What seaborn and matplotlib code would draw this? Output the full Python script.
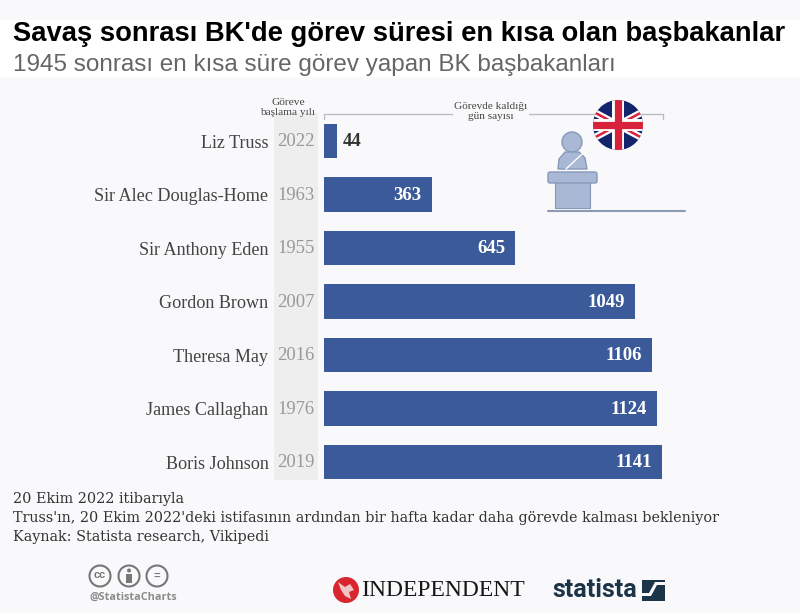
import matplotlib
matplotlib.use('Agg')
import matplotlib.pyplot as plt
from matplotlib.patches import Circle, Rectangle, Polygon, FancyBboxPatch
import pandas as pd
import seaborn as sns

names = ['Liz Truss', 'Sir Alec Douglas-Home', 'Sir Anthony Eden', 'Gordon Brown',
         'Theresa May', 'James Callaghan', 'Boris Johnson']
years = [2022, 1963, 1955, 2007, 2016, 1976, 2019]
days = [44, 363, 645, 1049, 1106, 1124, 1141]

title = "Savaş sonrası BK'de görev süresi en kısa olan başbakanlar"
subtitle = "1945 sonrası en kısa süre görev yapan BK başbakanları"
notes = ["20 Ekim 2022 itibarıyla",
         "Truss'ın, 20 Ekim 2022'deki istifasının ardından bir hafta kadar daha görevde kalması bekleniyor",
         "Kaynak: Statista research, Vikipedi"]

BG = '#f9f9fb'
BAR = '#3b5a9a'
ICON = '#a9b8d4'
ICON_EDGE = '#8698ba'
W, H = 800, 613

sns.set_theme(style='white')
plt.rcParams['font.family'] = ['Liberation Sans', 'DejaVu Sans']

df = pd.DataFrame({'name': names, 'year': years, 'days': days})

fig = plt.figure(figsize=(W / 100, H / 100), dpi=100, facecolor=BG)

# full figure layer in pixels, for everything around the bars
deco = fig.add_axes([0, 0, 1, 1], zorder=0)
deco.set_xlim(0, W)
deco.set_ylim(H, 0)
deco.axis('off')

deco.add_patch(Rectangle((0, 20), W, 57, color='white', lw=0))
deco.text(13, 41, title, fontsize=19.7, fontweight='bold', color='black', va='baseline', ha='left')
deco.text(13, 71.5, subtitle, fontsize=17.5, color='#666666', va='baseline', ha='left')

# year column
deco.add_patch(Rectangle((274, 113), 44, 367, color='#eeeeee', lw=0))
deco.text(288, 107.5, 'Göreve\nbaşlama yılı', fontsize=8.2, family='Liberation Serif', color='#444444',
          ha='center', va='center', linespacing=1.1)

# bracket over the bars
deco.plot([324, 324, 663, 663], [119, 113.5, 113.5, 119], color='#b9bdc6', lw=1)
deco.text(491, 111.5, 'Görevde kaldığı\ngün sayısı', fontsize=8.1, family='Liberation Serif', color='#444444',
          ha='center', va='center', linespacing=1.1,
          bbox=dict(facecolor=BG, edgecolor='none', pad=1))

# speaker at the lectern
deco.add_patch(Circle((572, 142), 10, facecolor=ICON, edgecolor=ICON_EDGE, lw=1))
deco.add_patch(Polygon([(558, 169), (559, 159), (565, 152), (579, 152), (585, 158), (587, 169)],
                       facecolor=ICON, edgecolor=ICON_EDGE, lw=1))
deco.plot([566, 582], [169, 154], color='white', lw=1)
deco.add_patch(Rectangle((555, 182), 35, 26, facecolor=ICON, edgecolor=ICON_EDGE, lw=0.8))
deco.add_patch(FancyBboxPatch((548, 172), 49, 11, boxstyle='round,pad=0,rounding_size=2',
                              facecolor=ICON, edgecolor=ICON_EDGE, lw=1))
deco.plot([548, 685], [210.5, 210.5], color='#8d9ab3', lw=1.5)

# flag
flag = Circle((618, 125), 25, facecolor='#12246b', edgecolor='none', zorder=3)
deco.add_patch(flag)
parts = [deco.plot([590, 646], [110, 140], color='white', lw=5, zorder=4)[0],
         deco.plot([590, 646], [140, 110], color='white', lw=5, zorder=4)[0],
         deco.plot([590, 646], [110, 140], color='#d8213a', lw=1.8, zorder=5)[0],
         deco.plot([590, 646], [140, 110], color='#d8213a', lw=1.8, zorder=5)[0],
         deco.plot([618, 618], [98, 152], color='white', lw=8.6, zorder=6)[0],
         deco.plot([590, 646], [125, 125], color='white', lw=8.6, zorder=6)[0],
         deco.plot([618, 618], [98, 152], color='#d8213a', lw=5.2, zorder=7)[0],
         deco.plot([590, 646], [125, 125], color='#d8213a', lw=5.2, zorder=7)[0]]
for p in parts:
    p.set_clip_path(flag)

# footer notes
for y, line in zip([503, 522, 541], notes):
    deco.text(13, y, line, fontsize=10.37, family='DejaVu Serif', color='#333333', va='baseline', ha='left')

# cc icons
for x, label in zip([100, 129, 157], ['cc', '', '=']):
    deco.add_patch(Circle((x, 576), 10.5, facecolor='none', edgecolor='#777777', lw=1.5))
    if label:
        deco.text(x, 575.5, label, fontsize=8, fontweight='bold', color='#777777', ha='center', va='center')
deco.add_patch(Circle((129, 570.5), 2, color='#777777', lw=0))
deco.add_patch(Rectangle((126, 573.5), 6, 9, color='#777777', lw=0))
deco.text(89.5, 597, '@StatistaCharts', fontsize=7.8, fontweight='bold', color='#8c8c8c', va='center', ha='left',
          family='Open Sans')

# publisher logos
deco.add_patch(Circle((346, 590), 13, color='#d9252e', lw=0))
deco.add_patch(Polygon([(338, 582), (345, 587), (350, 584), (354, 590), (349, 592), (351, 599), (345, 596), (341, 590)],
                       color='#f0c4c4', lw=0))
deco.text(361, 591, 'INDEPENDENT', fontsize=17, family='Liberation Serif', color='#161616', va='center', ha='left')
deco.text(552, 590, 'statista', fontsize=18, fontweight='bold', family='Roboto', color='#1b3447', va='center', ha='left',
          stretch='condensed')
deco.add_patch(Rectangle((642, 580), 23, 21, color='#1b3447', lw=0))
deco.add_patch(Polygon([(642, 596), (651, 596), (657, 585), (665, 585), (665, 582), (655, 582), (649, 593), (642, 593)],
                       color=BG, lw=0))

# bars: x=0 at pixel 324, 1141 days at pixel 662, rows 53.5 px apart
ax = fig.add_axes([324 / W, 1 - 488.75 / H, 338 / W, 374.5 / H], zorder=1)
ax.patch.set_alpha(0)
sns.barplot(data=df, x='days', y='name', color=BAR, saturation=1, width=0.64, linewidth=0, edgecolor='none', ax=ax)
ax.set_xlim(0, 1141)
ax.set_ylim(6.5, -0.5)
ax.set_xlabel('')
ax.set_ylabel('')
ax.set_xticks([])
sns.despine(ax=ax, left=True, bottom=True)
ax.tick_params(axis='y', length=0, pad=40)
for lab in ax.get_yticklabels():
    lab.set_family('Liberation Serif')
    lab.set_fontsize(13.1)
    lab.set_color('#444444')

for i, row in df.iterrows():
    ax.annotate(str(row['year']), (0, i), xytext=(-20, -0.5), textcoords='offset points',
                ha='center', va='center', fontsize=13.4, family='Liberation Serif', color='#999999')
    if row['days'] < 100:
        ax.annotate(str(row['days']), (row['days'], i), xytext=(4, -0.5), textcoords='offset points',
                    ha='left', va='center', fontsize=13.5, fontweight='bold', family='Liberation Serif',
                    color='#333333')
    else:
        ax.annotate(str(row['days']), (row['days'], i), xytext=(-7, -0.5), textcoords='offset points',
                    ha='right', va='center', fontsize=13.5, fontweight='bold', family='Liberation Serif',
                    color='white')

fig.savefig('out.png', dpi=100, facecolor=BG)
